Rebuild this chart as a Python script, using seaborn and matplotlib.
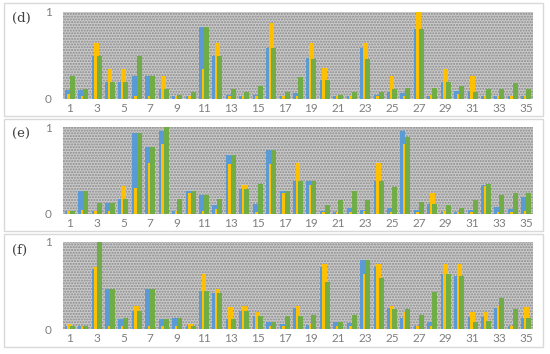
import matplotlib
matplotlib.use("Agg")
import matplotlib.pyplot as plt
from matplotlib.patches import Rectangle
import seaborn as sns
import pandas as pd


CATEGORIES = list(range(1, 36))
SERIES = ["blue", "yellow", "green"]
COLORS = ["#5B9BD5", "#FFC000", "#70AD47"]

# panel (d)
D_BLUE = [0.10, 0.10, 0.49, 0.20, 0.20, 0.26, 0.26, 0.11, 0.04, 0.035,
          0.83, 0.49, 0.05, 0.03, 0.05, 0.59, 0.03, 0.07, 0.47, 0.22,
          0.04, 0.04, 0.59, 0.05, 0.08, 0.07, 0.80, 0.03, 0.20, 0.09,
          0.09, 0.04, 0.04, 0.04, 0.04]
D_YELLOW = [0.06, 0.03, 0.64, 0.34, 0.35, 0.03, 0.04, 0.27, 0.03, 0.035,
            0.35, 0.64, 0.04, 0.03, 0.04, 0.87, 0.03, 0.03, 0.64, 0.36,
            0.04, 0.03, 0.64, 0.04, 0.26, 0.03, 1.00, 0.05, 0.34, 0.06,
            0.26, 0.04, 0.04, 0.04, 0.03]
D_GREEN = [0.27, 0.11, 0.49, 0.20, 0.20, 0.49, 0.27, 0.11, 0.05, 0.08,
           0.83, 0.49, 0.11, 0.08, 0.15, 0.59, 0.08, 0.25, 0.46, 0.22,
           0.05, 0.08, 0.46, 0.08, 0.11, 0.13, 0.80, 0.13, 0.20, 0.15,
           0.08, 0.11, 0.11, 0.18, 0.11]

# panel (e)
E_BLUE = [0.04, 0.27, 0.04, 0.13, 0.17, 0.93, 0.77, 0.95, 0.04, 0.27,
          0.22, 0.10, 0.68, 0.29, 0.12, 0.74, 0.27, 0.38, 0.38, 0.04,
          0.02, 0.07, 0.05, 0.38, 0.07, 0.95, 0.05, 0.12, 0.02, 0.02,
          0.05, 0.33, 0.08, 0.06, 0.19]
E_YELLOW = [0.03, 0.05, 0.03, 0.03, 0.32, 0.30, 0.59, 0.81, 0.03, 0.24,
            0.03, 0.06, 0.58, 0.33, 0.02, 0.58, 0.24, 0.59, 0.33, 0.02,
            0.02, 0.02, 0.03, 0.59, 0.02, 0.81, 0.02, 0.24, 0.04, 0.02,
            0.02, 0.32, 0.02, 0.02, 0.03]
E_GREEN = [0.04, 0.27, 0.13, 0.13, 0.17, 0.93, 0.77, 1.00, 0.17, 0.27,
           0.22, 0.17, 0.68, 0.29, 0.34, 0.74, 0.27, 0.38, 0.38, 0.10,
           0.16, 0.27, 0.16, 0.38, 0.31, 0.88, 0.14, 0.12, 0.10, 0.07,
           0.16, 0.34, 0.22, 0.24, 0.24]

# panel (f)
F_BLUE = [0.03, 0.04, 0.69, 0.46, 0.11, 0.21, 0.46, 0.11, 0.13, 0.04,
          0.44, 0.41, 0.11, 0.21, 0.15, 0.08, 0.06, 0.24, 0.05, 0.71,
          0.08, 0.07, 0.79, 0.71, 0.24, 0.13, 0.04, 0.08, 0.63, 0.61,
          0.14, 0.14, 0.24, 0.04, 0.13]
F_YELLOW = [0.06, 0.03, 0.71, 0.03, 0.03, 0.27, 0.03, 0.03, 0.03, 0.06,
            0.63, 0.46, 0.25, 0.27, 0.20, 0.03, 0.03, 0.27, 0.06, 0.75,
            0.03, 0.03, 0.63, 0.75, 0.27, 0.20, 0.03, 0.03, 0.75, 0.75,
            0.20, 0.20, 0.27, 0.03, 0.25]
F_GREEN = [0.03, 0.04, 1.00, 0.46, 0.13, 0.21, 0.46, 0.11, 0.13, 0.04,
           0.44, 0.41, 0.11, 0.21, 0.15, 0.08, 0.15, 0.15, 0.16, 0.54,
           0.08, 0.16, 0.79, 0.59, 0.23, 0.23, 0.16, 0.43, 0.63, 0.61,
           0.08, 0.09, 0.36, 0.23, 0.13]

PANELS = [
    ("(d)", D_BLUE, D_YELLOW, D_GREEN),
    ("(e)", E_BLUE, E_YELLOW, E_GREEN),
    ("(f)", F_BLUE, F_YELLOW, F_GREEN),
]

W, H = 550, 354
BAR_W = 0.37
TICK_COLOR = "#7F7F7F"


def long_frame(blue, yellow, green):
    rows = []
    for name, vals in zip(SERIES, [blue, yellow, green]):
        for c, v in zip(CATEGORIES, vals):
            rows.append({"cat": c, "series": name, "value": v})
    return pd.DataFrame(rows)


def overlap_bars(ax):
    # excel style overlapping bars: keep the dodge centres, widen each bar
    for container in ax.containers:
        for bar in container:
            cx = bar.get_x() + bar.get_width() / 2
            bar.set_width(BAR_W)
            bar.set_x(cx - BAR_W / 2)


sns.set_style("white")
plt.rcParams["hatch.color"] = "#8A8A8A"
plt.rcParams["hatch.linewidth"] = 1.0

fig = plt.figure(figsize=(W / 100, H / 100), dpi=100)
fig.patch.set_facecolor("white")

# panel frames: (top, bottom) in pixels
frames = [(3, 116), (119, 231), (234, 347)]
plot_tops = [12, 127, 242]
label_ys = [18, 134, 250]
plot_h = 87

for (label, blue, yellow, green), (ft, fb), pt, ly in zip(PANELS, frames, plot_tops, label_ys):
    fig.patches.append(Rectangle((4 / W, 1 - fb / H), 539 / W, (fb - ft) / H,
                                 transform=fig.transFigure, facecolor="none",
                                 edgecolor="#D9D9D9", linewidth=1, zorder=-1))
    ax = fig.add_axes([63 / W, 1 - (pt + plot_h) / H, 470 / W, plot_h / H])
    ax.patch.set_facecolor("#CACACA")
    ax.patch.set_hatch("......")
    ax.patch.set_edgecolor("#8A8A8A")
    ax.patch.set_linewidth(0)

    df = long_frame(blue, yellow, green)
    sns.barplot(data=df, x="cat", y="value", hue="series", palette=COLORS,
                dodge=True, width=0.57, saturation=1, legend=False,
                linewidth=0, ax=ax)
    overlap_bars(ax)

    ax.set_xlim(-0.5, len(CATEGORIES) - 0.5)
    ax.set_ylim(0, 1)
    ax.set_xticks(range(0, len(CATEGORIES), 2))
    ax.set_xticklabels([str(c) for c in CATEGORIES[::2]])
    ax.set_yticks([0, 1])
    ax.set_yticklabels(["0", "1"])
    ax.tick_params(axis="both", length=0, labelsize=8.5, labelcolor=TICK_COLOR)
    ax.tick_params(axis="x", pad=3)
    ax.tick_params(axis="y", pad=8)
    for t in ax.get_xticklabels() + ax.get_yticklabels():
        t.set_fontfamily("Lato")
    ax.set_xlabel("")
    ax.set_ylabel("")
    sns.despine(ax=ax, left=True, bottom=True)

    fig.text(12 / W, 1 - ly / H, label, ha="left", va="center",
             fontsize=9.5, color="#404040", fontfamily="DejaVu Serif")

fig.savefig("out.png", dpi=100, facecolor="white")
